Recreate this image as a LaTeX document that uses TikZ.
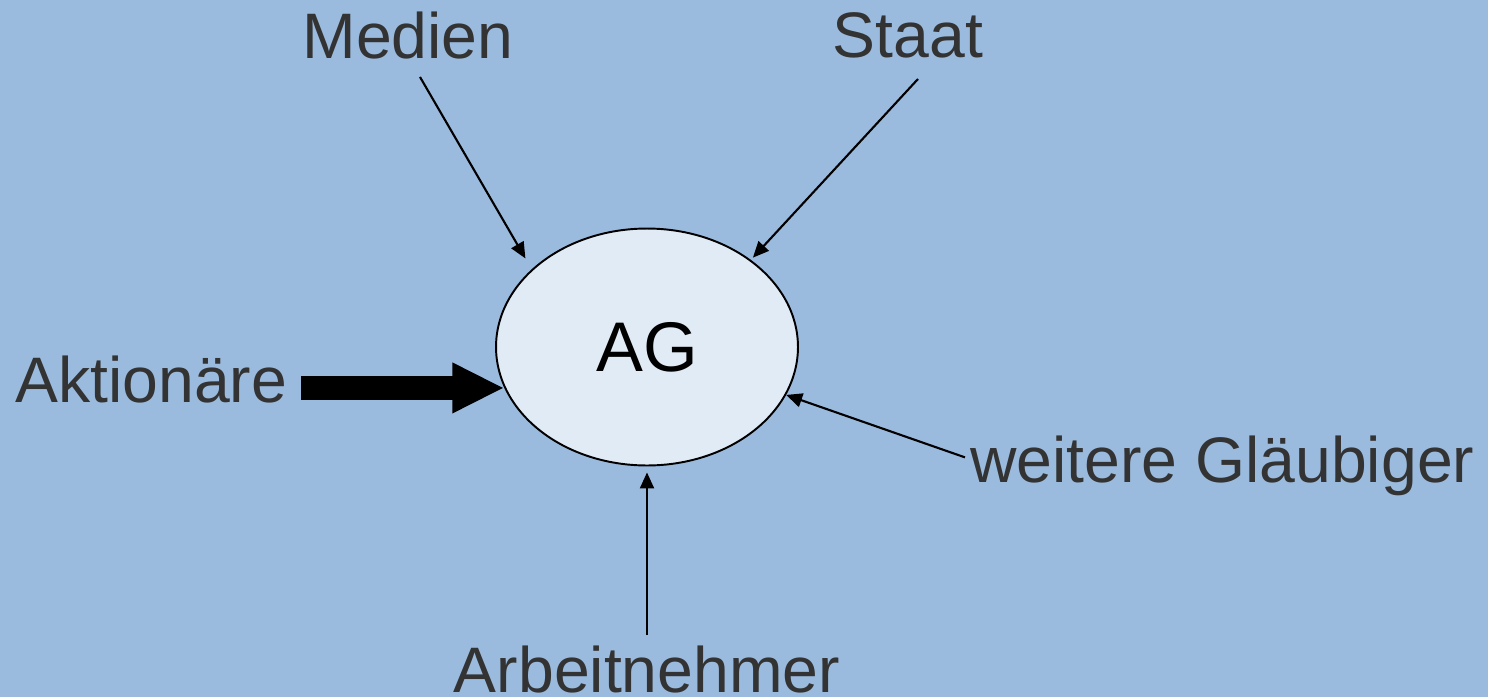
\documentclass[tikz,border=0pt]{standalone}
\usepackage{fontspec}
\setmainfont{Liberation Sans}
\usetikzlibrary{arrows.meta,shapes.geometric}
\definecolor{bgblue}{HTML}{9BBBDE}
\definecolor{agfill}{HTML}{E1EBF5}
\definecolor{labelgray}{HTML}{333333}
\begin{document}
\begin{tikzpicture}[x=0.02cm, y=-0.02cm,
        group/.style={inner sep=0pt, text=labelgray, font=\fontsize{36.6}{44}\selectfont},
        thinarrow/.style={line width=1.2pt, -{Triangle[length=0.32cm,width=0.28cm]}},
        bigarrow/.style={line width=0.48cm, -{Triangle[length=1.04cm,width=0.94cm]}}]
        \fill[bgblue] (0, 0) rectangle (1488, 697);
        \useasboundingbox (0, 0) rectangle (1488, 697);

        \node[ellipse, draw, line width=1.1pt, fill=agfill, minimum width=6.04cm, minimum height=4.74cm, inner sep=0pt, font=\fontsize{40}{48}\selectfont] (ag) at (647, 347) {AG};

        \node[group, anchor=base] (medien) at (408, 58) {Medien};
        \node[group, anchor=base] (staat) at (908, 57) {Staat};
        \node[group, anchor=base west] (aktionaere) at (15, 402) {Aktionäre};
        \node[group, anchor=base west] (glaeubiger) at (970, 482) {weitere Gläubiger};
        \node[group, anchor=base] (arbeitnehmer) at (647, 692) {Arbeitnehmer};

        \draw[thinarrow, shorten >=0.25cm] ([shift={(12, 18)}]medien.south) -- (ag.146);
        \draw[thinarrow, shorten >=0.06cm] ([shift={(10, 21)}]staat.south) -- (ag.40);
        \draw[bigarrow] ([xshift=0.28cm]aktionaere.east |- ag.196) -- (ag.196);
        \draw[thinarrow] ([shift={(-5, -8)}]glaeubiger.west) -- (ag.341);
        \draw[thinarrow, shorten >=0.12cm] ([shift={(0, -10)}]arbeitnehmer.north) -- (ag.south);
    \end{tikzpicture}
\end{document}
